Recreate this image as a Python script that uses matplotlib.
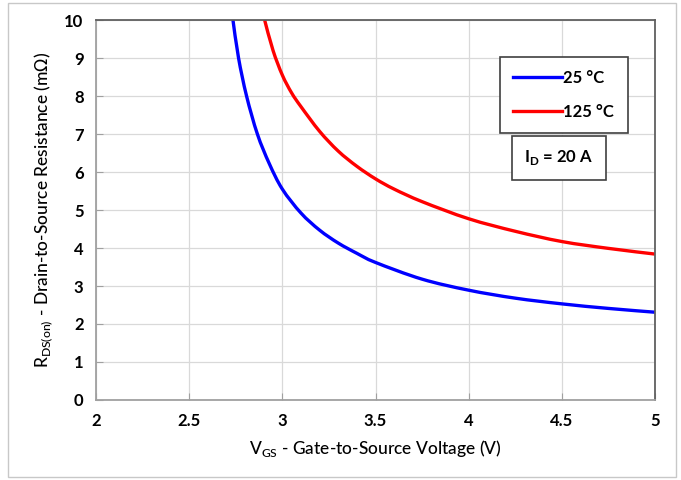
import matplotlib
matplotlib.use("Agg")
import matplotlib.pyplot as plt
from matplotlib.patches import Rectangle, PathPatch
from matplotlib.path import Path
from matplotlib.lines import Line2D

# Drain-to-source resistance vs gate voltage, ID = 20 A
vgs_25 = [2.735, 2.765, 2.808, 2.866, 2.93, 3.0, 3.1, 3.2, 3.3, 3.4, 3.5, 3.75, 4.0, 4.25, 4.5, 4.75, 5.0]
rds_25 = [10.0, 9.0, 8.0, 7.0, 6.22, 5.55, 4.92, 4.47, 4.13, 3.86, 3.62, 3.18, 2.89, 2.68, 2.53, 2.41, 2.31]

vgs_125 = [2.905, 2.95, 3.0, 3.05, 3.1, 3.2, 3.3, 3.4, 3.5, 3.6, 3.75, 4.0, 4.25, 4.5, 4.75, 5.0]
rds_125 = [10.0, 9.2, 8.55, 8.08, 7.72, 7.07, 6.55, 6.15, 5.82, 5.55, 5.22, 4.77, 4.44, 4.17, 3.99, 3.84]

x_ticks = [2, 2.5, 3, 3.5, 4, 4.5, 5]
x_tick_labels = ["2", "2.5", "3", "3.5", "4", "4.5", "5"]
y_ticks = list(range(0, 11))


def smooth_path(xs, ys):
    # Catmull-Rom style cubic Bezier through the points
    pts = list(zip(xs, ys))
    verts = [pts[0]]
    codes = [Path.MOVETO]
    n = len(pts)
    for i in range(n - 1):
        p0 = pts[max(i - 1, 0)]
        p1 = pts[i]
        p2 = pts[i + 1]
        p3 = pts[min(i + 2, n - 1)]
        c1 = (p1[0] + (p2[0] - p0[0]) / 6, p1[1] + (p2[1] - p0[1]) / 6)
        c2 = (p2[0] - (p3[0] - p1[0]) / 6, p2[1] - (p3[1] - p1[1]) / 6)
        verts += [c1, c2, p2]
        codes += [Path.CURVE4] * 3
    return Path(verts, codes)


plt.rcParams["font.family"] = ["Lato", "DejaVu Sans"]

fig = plt.figure(figsize=(6.81, 4.8), dpi=100)
ax = fig.add_axes([96 / 681, 1 - 400 / 480, 559 / 681, 380 / 480])

# light frame around the whole picture
fig.patches.append(Rectangle((8 / 681, 3 / 480), 668 / 681, 474 / 480,
                             transform=fig.transFigure, fill=False,
                             edgecolor="#c8c8c8", linewidth=1))

for xs, ys, col in [(vgs_25, rds_25, "#0000ff"), (vgs_125, rds_125, "#ff0000")]:
    ax.add_patch(PathPatch(smooth_path(xs, ys), fill=False, edgecolor=col,
                           linewidth=2.4, capstyle="butt"))

ax.set_xlim(2, 5)
ax.set_ylim(0, 10)
ax.set_xticks(x_ticks)
ax.set_xticklabels(x_tick_labels)
ax.set_yticks(y_ticks)
ax.grid(True, color="#d9d9d9", linewidth=0.9)
ax.set_axisbelow(True)
ax.tick_params(direction="in", length=5, color="#a0a0a0", labelsize=12, pad=9)
for lbl in ax.get_xticklabels() + ax.get_yticklabels():
    lbl.set_fontweight("bold")
ax.spines["left"].set_color("#a0a0a0")
ax.spines["bottom"].set_color("#a0a0a0")
ax.spines["top"].set_color("#606060")
ax.spines["right"].set_color("#606060")
for s in ax.spines.values():
    s.set_linewidth(1.3)

ax.set_xlabel(r"V$_{\mathregular{GS}}$ - Gate-to-Source Voltage (V)", fontsize=12.5,
              fontweight="medium", labelpad=7)
ax.set_ylabel(r"R$_{\mathregular{DS(on)}}$ - Drain-to-Source Resistance (m$\Omega$)",
              fontsize=12.5, fontweight="medium", labelpad=7)

handles = [Line2D([], [], color="#0000ff", linewidth=2.4),
           Line2D([], [], color="#ff0000", linewidth=2.4)]
leg = ax.legend(handles, ["25 °C", "125 °C"], loc="upper left",
                bbox_to_anchor=(0.723, 0.903), borderaxespad=0, fancybox=False,
                edgecolor="#404040", framealpha=1, handlelength=2.9,
                handletextpad=0.1, labelspacing=1.05, borderpad=0.8,
                prop={"weight": "bold", "size": 12})
leg.get_frame().set_linewidth(1.2)

ax.text(0.828, 0.638, r"I$_{\mathregular{D}}$ = 20 A", transform=ax.transAxes,
        ha="center", va="center", fontsize=12, fontweight="bold",
        bbox=dict(boxstyle="square,pad=0.75", facecolor="white", edgecolor="#404040", linewidth=1.2))

fig.savefig("out.png", dpi=100)
